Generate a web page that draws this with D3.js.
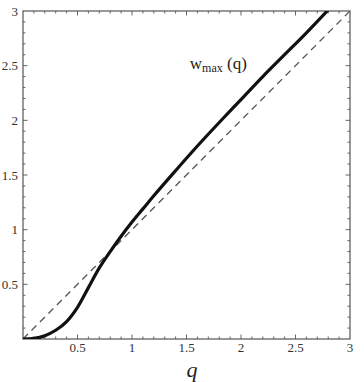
<!DOCTYPE html>
<html>
<head>
<meta charset="utf-8">
<script src="https://cdn.jsdelivr.net/npm/d3@7"></script>
<style>
  body { margin: 0; background: #fff; }
</style>
</head>
<body>
<div id="chart"></div>
<script>
// Set height and width for svg
var svgWidth = 364;
var svgHeight = 382;

var margin = { top: 11, right: 14, bottom: 43, left: 23 };

var width = svgWidth - margin.left - margin.right;
var height = svgHeight - margin.top - margin.bottom;

var serif = "'Liberation Serif', 'DejaVu Serif', 'Times New Roman', serif";

// data
var qValues = [0, 0.1, 0.2, 0.3, 0.4, 0.5, 0.6, 0.7, 0.8, 0.9, 1.0, 1.1, 1.2, 1.4, 1.6, 1.8, 2.0, 2.2, 2.4, 2.6, 2.8];
var wMax = [0, 0.005, 0.03, 0.08, 0.16, 0.29, 0.47, 0.65, 0.80, 0.94, 1.07, 1.19, 1.31, 1.54, 1.765, 1.98, 2.19, 2.40, 2.60, 2.80, 3.01];
var diagonal = [0, 3];
var xTickLabels = [0.5, 1, 1.5, 2, 2.5, 3];
var yTickLabels = [0.5, 1, 1.5, 2, 2.5, 3];

var curveData = qValues.map(function(q, i) { return { q: q, w: wMax[i] }; });

var svg = d3.select("#chart")
  .append("svg")
  .attr("width", svgWidth)
  .attr("height", svgHeight);

var chartGroup = svg.append("g")
  .attr("transform", `translate(${margin.left}, ${margin.top})`);

var xScale = d3.scaleLinear().domain([0, 3]).range([0, width]);
var yScale = d3.scaleLinear().domain([0, 3]).range([height, 0]);

svg.append("defs").append("clipPath")
  .attr("id", "plotClip")
  .append("rect")
  .attr("width", width)
  .attr("height", height);

// minor / major ticks on all four sides, pointing inward
var ticks = d3.range(1, 30).map(function(i) { return i / 10; });
var tickColor = "#666";

function tickLen(t) {
  return Math.abs(t * 2 - Math.round(t * 2)) < 1e-6 ? 4.5 : 2.5;
}

var tickGroup = chartGroup.append("g").attr("stroke", tickColor).attr("stroke-width", 1);

ticks.forEach(function(t) {
  var x = xScale(t), y = yScale(t), l = tickLen(t);
  tickGroup.append("line").attr("x1", x).attr("x2", x).attr("y1", height).attr("y2", height - l);
  tickGroup.append("line").attr("x1", x).attr("x2", x).attr("y1", 0).attr("y2", l);
  tickGroup.append("line").attr("y1", y).attr("y2", y).attr("x1", 0).attr("x2", l);
  tickGroup.append("line").attr("y1", y).attr("y2", y).attr("x1", width).attr("x2", width - l);
});

// frame
chartGroup.append("rect")
  .attr("width", width)
  .attr("height", height)
  .attr("fill", "none")
  .attr("stroke", "#555")
  .attr("stroke-width", 1.2);

// tick labels
chartGroup.selectAll(".xlab")
  .data(xTickLabels)
  .enter()
  .append("text")
  .attr("x", d => xScale(d))
  .attr("y", height + 13)
  .attr("text-anchor", "middle")
  .attr("font-family", serif)
  .attr("font-size", 13)
  .attr("fill", "#333")
  .text(d => d);

chartGroup.selectAll(".ylab")
  .data(yTickLabels)
  .enter()
  .append("text")
  .attr("x", -5)
  .attr("y", d => yScale(d))
  .attr("dy", "0.35em")
  .attr("text-anchor", "end")
  .attr("font-family", serif)
  .attr("font-size", 13)
  .attr("fill", "#333")
  .text(d => d);

// dashed diagonal w = q
chartGroup.append("line")
  .attr("x1", xScale(diagonal[0]))
  .attr("y1", yScale(diagonal[0]))
  .attr("x2", xScale(diagonal[1]))
  .attr("y2", yScale(diagonal[1]))
  .attr("stroke", "#555")
  .attr("stroke-width", 1.3)
  .attr("stroke-dasharray", "7,5");

// solid curve
var line = d3.line()
  .x(d => xScale(d.q))
  .y(d => yScale(d.w))
  .curve(d3.curveCatmullRom);

chartGroup.append("path")
  .datum(curveData)
  .attr("clip-path", "url(#plotClip)")
  .attr("d", line)
  .attr("fill", "none")
  .attr("stroke", "#111")
  .attr("stroke-width", 3.2);

// curve label
var label = chartGroup.append("text")
  .attr("x", xScale(1.53))
  .attr("y", yScale(2.47))
  .attr("font-family", serif)
  .attr("font-size", 17)
  .attr("fill", "#222");
label.append("tspan").text("w");
label.append("tspan").attr("font-size", 12).attr("dy", 3).text("max");
label.append("tspan").attr("dy", -3).text(" (q)");

// axis title
chartGroup.append("text")
  .attr("x", xScale(1.55))
  .attr("y", height + 38)
  .attr("text-anchor", "middle")
  .attr("font-family", serif)
  .attr("font-size", 22)
  .attr("font-style", "italic")
  .attr("fill", "#222")
  .text("q");
</script>
</body>
</html>
